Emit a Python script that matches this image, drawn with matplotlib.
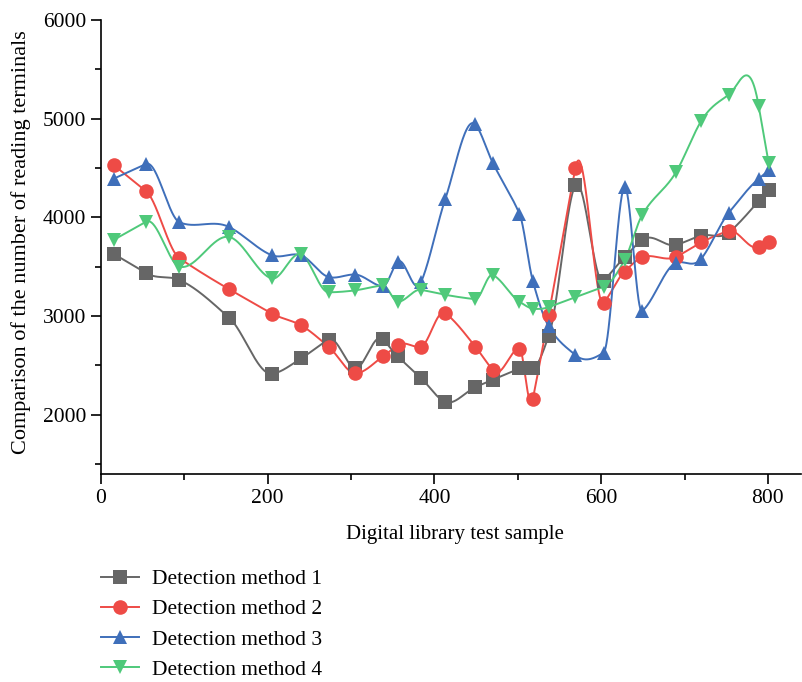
import numpy as np
import matplotlib
matplotlib.use("Agg")
import matplotlib.pyplot as plt
from matplotlib.ticker import MultipleLocator

x = [15, 54, 94, 154, 205, 240, 273, 305, 338, 356, 384, 413, 449, 470,
     502, 518, 537, 569, 603, 628, 649, 690, 720, 753, 789, 801]
m1 = [3630, 3435, 3365, 2980, 2415, 2570, 2760, 2470, 2765, 2590, 2370, 2130,
      2280, 2355, 2470, 2470, 2795, 4325, 3355, 3595, 3770, 3720, 3815, 3845, 4165, 4280]
m2 = [4530, 4265, 3585, 3270, 3025, 2905, 2690, 2420, 2590, 2705, 2690, 3030,
      2690, 2450, 2670, 2160, 3010, 4495, 3135, 3450, 3595, 3600, 3745, 3860, 3700, 3750]
m3 = [4390, 4540, 3950, 3900, 3615, 3615, 3395, 3420, 3300, 3550, 3345, 4185,
      4940, 4550, 4035, 3355, 2895, 2605, 2630, 4310, 3050, 3540, 3580, 4045, 4390, 4475]
m4 = [3770, 3955, 3500, 3800, 3380, 3625, 3240, 3260, 3310, 3145, 3265, 3215,
      3170, 3415, 3145, 3075, 3090, 3190, 3295, 3565, 4020, 4460, 4975, 5240, 5125, 4545]
labels = ["Detection method 1", "Detection method 2", "Detection method 3", "Detection method 4"]
colors = ["#666666", "#EE4B46", "#3F6FBA", "#4FC97A"]
markers = ["s", "o", "^", "v"]


def akima_curve(xs, ys, per_seg=60):
    xs = np.asarray(xs, float)
    ys = np.asarray(ys, float)
    s = np.diff(ys) / np.diff(xs)
    m = np.concatenate([[s[0], s[0]], s, [s[-1], s[-1]]])
    n = len(xs)
    t = np.zeros(n)
    for i in range(n):
        a, b, c, d = m[i], m[i + 1], m[i + 2], m[i + 3]
        w1 = abs(d - c)
        w2 = abs(b - a)
        if w1 + w2 == 0:
            t[i] = 0.5 * (b + c)
        else:
            t[i] = (w1 * b + w2 * c) / (w1 + w2)
    xf, yf = [], []
    for i in range(n - 1):
        h = xs[i + 1] - xs[i]
        u = np.linspace(0, 1, per_seg, endpoint=(i == n - 2))
        h00 = 2 * u ** 3 - 3 * u ** 2 + 1
        h10 = u ** 3 - 2 * u ** 2 + u
        h01 = -2 * u ** 3 + 3 * u ** 2
        h11 = u ** 3 - u ** 2
        xf.append(xs[i] + u * h)
        yf.append(h00 * ys[i] + h10 * h * t[i] + h01 * ys[i + 1] + h11 * h * t[i + 1])
    return np.concatenate(xf), np.concatenate(yf)


plt.rcParams['font.family'] = ['Liberation Serif', 'DejaVu Serif']
fig = plt.figure(figsize=(8.03, 6.82), dpi=100)
ax = fig.add_axes([0.1258, 0.305, 0.872, 0.666])

for ys, lab, col, mk in zip([m1, m2, m3, m4], labels, colors, markers):
    xf, yf = akima_curve(x, ys)
    ax.plot(xf, yf, color=col, lw=1.4, zorder=2)
    ax.plot(x, ys, linestyle='none', marker=mk, color=col, markersize=10.5,
            markeredgewidth=0, zorder=3)
    ax.plot([], [], color=col, lw=1.4, marker=mk, markersize=10.5,
            markeredgewidth=0, label=lab)

ax.set_xlim(0, 840)
ax.set_ylim(1400, 6000)
ax.xaxis.set_major_locator(MultipleLocator(200))
ax.xaxis.set_minor_locator(MultipleLocator(100))
ax.yaxis.set_minor_locator(MultipleLocator(500))
ax.set_yticks([2000, 3000, 4000, 5000, 6000])
ax.spines['top'].set_visible(False)
ax.spines['right'].set_visible(False)
ax.tick_params(which='major', direction='out', length=7, width=1.2, labelsize=15.5, colors='black')
ax.tick_params(which='minor', direction='out', length=4, width=1.2)
ax.spines['left'].set_linewidth(1.2)
ax.spines['bottom'].set_linewidth(1.2)
ax.set_xlabel("Digital library test sample", fontsize=15)
ax.set_ylabel("Comparison of the number of reading terminals", fontsize=16)
ax.yaxis.set_label_coords(-0.1, 0.511)
ax.xaxis.set_label_coords(0.506, -0.112)

handles, labs = ax.get_legend_handles_labels()
fig.legend(handles, labs, loc='upper left', bbox_to_anchor=(0.115, 0.178), frameon=False,
           fontsize=15.5, handlelength=1.75, labelspacing=0.47, borderaxespad=0, handletextpad=0.6)

fig.savefig("out.png", dpi=100)
